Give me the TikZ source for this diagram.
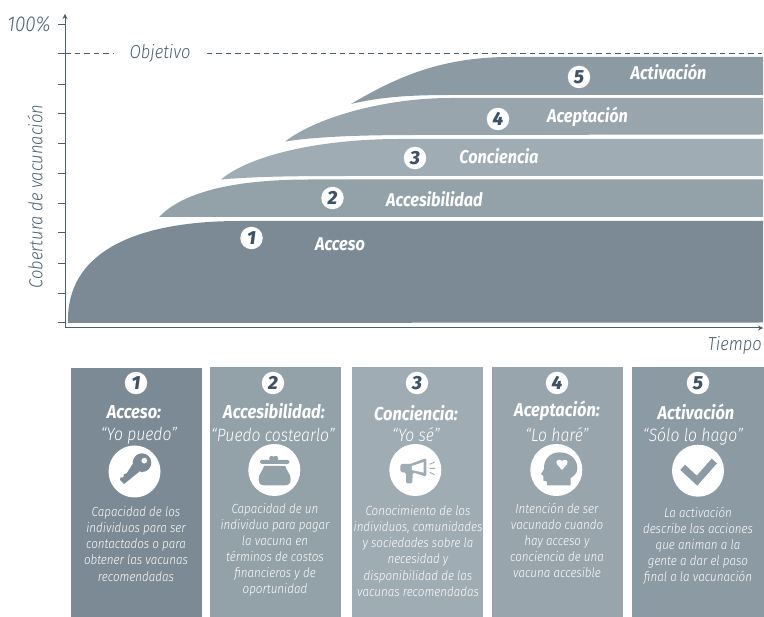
\documentclass[tikz,border=0pt]{standalone}
\usepackage{fontspec}
\setmainfont{Fira Sans Light}[FakeStretch=0.88,ItalicFont={Fira Sans Light Italic},BoldItalicFont={Fira Sans Bold Italic}]
\newfontfamily\numfont{Fira Sans ExtraBold Italic}
\usetikzlibrary{arrows.meta}
\definecolor{axiscol}{HTML}{4A6070}
\definecolor{numcol}{HTML}{3E5366}
\definecolor{cA}{HTML}{7B8A94}
\definecolor{cB}{HTML}{93A1A8}
\definecolor{cC}{HTML}{9FACB3}
\definecolor{cD}{HTML}{98A5AD}
\definecolor{cE}{HTML}{8C9AA3}
\tikzset{
  axisline/.style={draw=axiscol,line width=1pt},
  tickline/.style={draw=axiscol,line width=0.8pt},
  dashline/.style={draw=axiscol,line width=0.8pt,dash pattern=on 5.5pt off 4pt},
  axislabel/.style={text=axiscol,inner sep=0pt,font=\fontsize{18.8}{20}\selectfont\itshape},
  band/.style={text=white,inner sep=0pt,font=\fontsize{18.5}{20}\selectfont\bfseries\itshape},
  numdot/.style={circle,fill=white,text=numcol,inner sep=0pt,minimum size=22.5pt,font=\fontsize{19}{19}\numfont},
  cardbox/.style={inner sep=0pt,minimum width=131pt,minimum height=249pt,anchor=north west},
  cardtitle/.style={text=white,inner sep=0pt,font=\fontsize{18.7}{20}\selectfont\bfseries\itshape},
  cardquote/.style={text=white,inner sep=0pt,font=\fontsize{17.9}{20}\selectfont\itshape},
  carddesc/.style={text=white,inner sep=0pt,anchor=north,align=center,font=\fontsize{13.2}{16.1}\selectfont\itshape},
  iconcirc/.style={circle,fill=white,inner sep=0pt,minimum size=52pt},
}
\begin{document}
\begin{tikzpicture}[x=1pt,y=-1pt]
\useasboundingbox (0,0) rectangle (764,617);
% bands
\fill[cE] (351,104) .. controls (395,78) and (440,57) .. (510,57) -- (763,57) -- (763,95) -- (450,95) .. controls (410,95) and (380,97) .. (351,104) -- cycle;
\fill[cD] (285,141.5) .. controls (320,115) and (390,98) .. (450,98) -- (763,98) -- (763,134.5) -- (420,135) .. controls (370,135) and (320,136) .. (285,141.5) -- cycle;
\fill[cC] (221,179.5) .. controls (250,155) and (320,139) .. (400,139) -- (763,139) -- (763,176) -- (360,176) .. controls (310,176) and (260,176) .. (221,179.5) -- cycle;
\fill[cB] (159,217) .. controls (185,190) and (240,179.5) .. (310,179.5) -- (763,179.5) -- (763,217) -- cycle;
\fill[cA] (68,323) .. controls (66,255) and (130,221) .. (240,221) -- (763,221) -- (763,322.5) -- cycle;
% axes
\coordinate (org) at (65,328);
\coordinate (ytop) at (65,14);
\coordinate (xend) at (763,328);
\draw[axisline,-{Stealth[length=5pt,width=5pt]}] (org) -- (ytop);
\draw[axisline,-{Stealth[length=5pt,width=5pt]}] (org) -- (xend);
\foreach \ty in {24,53,84,113.5,143,173,203,232,263,293,322}{
  \draw[tickline] (58,\ty) -- (65,\ty);
}
\node[axislabel,font=\fontsize{21.5}{22}\selectfont\itshape] (pct) at (29,24) {100\%};
\node[axislabel,inner xsep=16pt] (obj) at (160,53) {Objetivo};
\coordinate (dashA) at (65,53);
\coordinate (dashB) at (762,53);
\draw[dashline] (dashA) -- (obj.west);
\draw[dashline] (obj.east) -- (dashB);
\node[axislabel,rotate=90] (ylab) at (35,196.5) {Cobertura de vacunación};
\node[axislabel,anchor=east] (xlab) at (762,345) {Tiempo};
% band labels
\node[numdot] (n1) at (251.5,238) {1};
\node[numdot] (n2) at (332.5,198) {2};
\node[numdot] (n3) at (415,158) {3};
\node[numdot] (n4) at (498,119) {4};
\node[numdot] (n5) at (579,77) {5};
\node[band] (b1) at (340,244) {Acceso};
\node[band] (b2) at (434.5,199) {Accesibilidad};
\node[band] (b3) at (499,156) {Conciencia};
\node[band] (b4) at (587.5,117) {Aceptación};
\node[band] (b5) at (668.5,72) {Activación};
% cards
\node[cardbox,fill=cA] (c1) at (71,368) {};
\node[cardbox,fill=cB,minimum height=250pt] (c2) at (210,367) {};
\node[cardbox,fill=cC,minimum height=250pt] (c3) at (352,367) {};
\node[cardbox,fill=cD,minimum height=250pt] (c4) at (492,367) {};
\node[cardbox,fill=cE,minimum width=132pt,minimum height=250pt] (c5) at (632,367) {};
% card 1
\node[numdot] (d1) at (136,383) {1};
\node[cardtitle] (t1) at (134,412) {Acceso:};
\node[cardquote] (q1) at (139,436) {“Yo puedo”};
\node[iconcirc] (i1) at (134.5,471.5) {};
\begin{scope}[shift={(100,440)},x=0.3333pt,y=-0.3333pt]
  \fill[cA,even odd rule] (126,68) circle[radius=28] (133,62) circle[radius=9];
  \fill[cA] (98,72) -- (118,95) -- (72,132) -- (60,120) -- (62,112) -- (70,112) -- (72,103) -- (80,100) -- cycle;
\end{scope}
\node[carddesc] (p1) at (136,506.5) {Capacidad de los\\individuos para ser\\contactados o para\\obtener las vacunas\\recomendadas};
% card 2
\node[numdot] (d2) at (273,383) {2};
\node[cardtitle] (t2) at (274,411) {Accesibilidad:};
\node[cardquote] (q2) at (273,435) {“Puedo costearlo”};
\node[iconcirc] (i2) at (274.3,470) {};
\begin{scope}[shift={(240,440)},x=0.3333pt,y=-0.3333pt]
  \fill[cB] (95,55) circle[radius=7.5] (107,55) circle[radius=7.5];
  \fill[cB,rounded corners=1.5pt] (60,60) rectangle (148,72);
  \fill[cB] (72,78) -- (136,78) .. controls (140,95) and (152,100) .. (152,118) .. controls (152,130) and (146,136) .. (135,136) -- (73,136) .. controls (62,136) and (56,130) .. (56,118) .. controls (56,100) and (68,95) .. (72,78) -- cycle;
\end{scope}
\node[carddesc] (p2) at (275,503) {Capacidad de un\\individuo para pagar\\la vacuna en\\términos de costos\\financieros y de\\oportunidad};
% card 3
\node[numdot] (d3) at (417,383) {3};
\node[cardtitle] (t3) at (416,413) {Conciencia:};
\node[cardquote] (q3) at (416,435) {“Yo sé”};
\node[iconcirc] (i3) at (415.3,470) {};
\begin{scope}[shift={(382,440)},x=0.3333pt,y=-0.3333pt]
  \fill[cC,rounded corners=1.5pt] (55,72) -- (85,72) -- (133,54) -- (133,110) -- (92,97) -- (91,130) -- (72,130) -- (72,97) -- (55,97) -- cycle;
  \fill[white] (90,78) -- (125,66) -- (125,98) -- (90,90) -- cycle;
  \draw[cC,line width=0.9pt] (143,73) -- (158,66) (143,85) -- (160,85) (143,97) -- (158,104);
\end{scope}
\node[carddesc] (p3) at (418,505.5) {Conocimiento de los\\individuos, comunidades\\y sociedades sobre la\\necesidad y\\disponibilidad de las\\vacunas recomendadas};
% card 4
\node[numdot] (d4) at (557,383) {4};
\node[cardtitle] (t4) at (557,411) {Aceptación:};
\node[cardquote] (q4) at (557,435) {“Lo haré”};
\node[iconcirc] (i4) at (556.3,470) {};
\begin{scope}[shift={(522,440)},x=0.3333pt,y=-0.3333pt]
  \fill[cD] (112,37) .. controls (145,37) and (166,58) .. (166,85) .. controls (166,100) and (155,108) .. (146,114) -- (146,136) -- (76,136) -- (74,124) -- (64,122) -- (64,108) -- (57,102) -- (66,88) .. controls (64,58) and (85,37) .. (112,37) -- cycle;
  \fill[white] (120,90) -- (105,73) .. controls (98,62) and (112,54) .. (120,63) .. controls (128,54) and (142,62) .. (135,73) -- cycle;
\end{scope}
\node[carddesc] (p4) at (557,503) {Intención de ser\\vacunado cuando\\hay acceso y\\conciencia de una\\vacuna accesible};
% card 5
\node[numdot] (d5) at (698,383) {5};
\node[cardtitle] (t5) at (696,412) {Activación};
\node[cardquote] (q5) at (693,436) {“Sólo lo hago”};
\node[iconcirc] (i5) at (698,470.7) {};
\begin{scope}[shift={(662,440)},x=0.3333pt,y=-0.3333pt]
  \draw[cE,line width=7pt] (62,82) -- (105,122) -- (157,63);
\end{scope}
\node[carddesc] (p5) at (698,506.5) {La activación\\describe las acciones\\que animan a la\\gente a dar el paso\\final a la vacunación};
\end{tikzpicture}
\end{document}
